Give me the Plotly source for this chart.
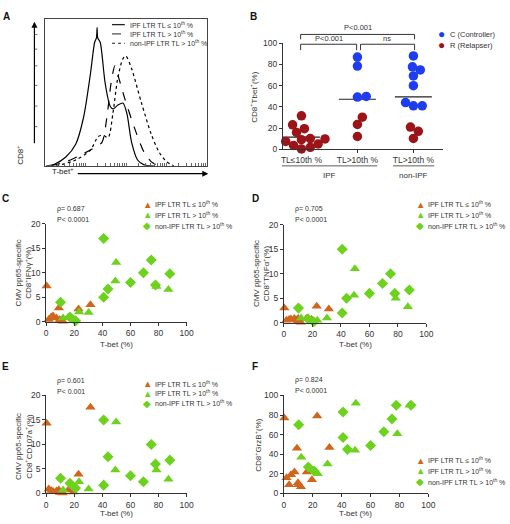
import numpy as np
import plotly.graph_objects as go

W, H = 510, 524
FONT = "Liberation Sans, Arial, sans-serif"
TXT = "#222222"
ORANGE = "#d2651c"
GREEN = "#6cd21e"
BLUE = "#1e3cf0"
RED = "#9c1418"

def px(x):
    return x / W

def py(y):
    return 1 - y / H

# ---------------- Panel A: histogram overlays (x: % of axis, y: % of max) -------------
a_solid_x = [0.6, 6, 12.7, 18.8, 23.6, 27.9, 30.5, 31.6, 32.0, 32.4, 33.9, 37, 40, 41.8, 44.8, 47.9, 50.3, 53.3, 57, 61, 67]
a_solid_y = [0, 1.3, 6, 14.7, 32.7, 62.7, 84, 87, 94, 87, 84, 56, 40.7, 38.7, 41.3, 42.7, 36, 16, 4, 0.7, 0]
a_dash_x = [3.6, 12.7, 21.8, 30.9, 35, 38, 40.6, 43, 45.5, 49, 55, 61, 65.5, 70]
a_dash_y = [0, 2.7, 7.3, 12.7, 16, 32.7, 56, 68, 59.3, 46, 26, 9.3, 2.7, 0]
a_dot_x = [6.7, 18.8, 27.9, 32.7, 35.8, 38.8, 41.8, 44.8, 47.9, 49.7, 53.3, 59.4, 65.5, 70.3, 75, 79.4]
a_dot_y = [0, 4, 10.7, 20, 20.7, 19.3, 36, 60, 72.7, 74.7, 66, 42.7, 21.3, 9.3, 2.7, 0]
a_legend = ["IPF LTR TL \u2264 10<sup>th</sup> %", "IPF LTR TL > 10<sup>th</sup> %",
            "non-IPF LTR TL > 10<sup>th</sup> %"]

# ---------------- Shared T-bet (%) values per patient group ----------------
tbet_low = [0.3, 1.8, 3.6, 4.9, 7.3, 9.0, 9.7, 10.0, 11.8, 15.8, 19.4, 23.0, 31.5]
tbet_mid = [12.0, 23.4, 30.2, 49.2, 49.8, 78.5, 87.0]
tbet_hi = [10.2, 16.9, 20.9, 40.9, 40.9, 44.0, 60.0, 69.2, 74.8, 77.8, 88.0]
status_low = ["R"] * 13
status_mid = ["R", "R", "R", "C", "C", "C", "C"]
status_hi = ["R", "R", "R", "C", "C", "C", "C", "C", "C", "C", "C"]
b_categories = ["TL\u226410th %", "TL>10th %", "TL>10th %"]

# ---------------- Panels C-F y values (same patient order) ----------------
ifng_low = [7.3, 0.5, 1.0, 1.2, 0.8, 2.8, 0.4, 0.2, 0.1, 0.9, 0.6, 2.6, 3.5]
ifng_mid = [0.8, 2.0, 1.9, 8.3, 12.1, 7.2, 6.6]
ifng_hi = [4.0, 1.0, 0.2, 17.0, 5.0, 6.7, 8.0, 10.0, 12.6, 7.5, 9.8]

tnfa_low = [3.0, 0.5, 0.7, 0.8, 0.9, 0.6, 0.3, 0.9, 0.1, 0.9, 0.7, 3.4, 2.8]
tnfa_mid = [1.0, 0.5, 1.0, 5.6, 11.0, 5.0, 3.3]
tnfa_hi = [3.0, 0.8, 0.2, 15.0, 2.0, 5.0, 6.0, 8.0, 10.0, 6.0, 6.7]

cd107_low = [14.3, 0.9, 0.6, 0.4, 0.5, 0.7, 0.3, 0.2, 0.1, 0.7, 0.3, 3.9, 17.6]
cd107_mid = [0.7, 2.4, 0.9, 4.8, 14.6, 4.8, 2.9]
cd107_hi = [3.1, 2.1, 1.1, 15.0, 1.7, 7.5, 3.6, 2.4, 10.0, 6.0, 6.8]

grzb_low = [77, 16, 9, 19, 22, 46, 11, 9, 7, 22, 14, 79, 47]
grzb_mid = [37, 20, 30, 44, 92, 61, 90]
grzb_hi = [70, 27, 23, 83, 57, 45, 49, 63, 76, 90, 90]

stats = {"C": ("\u03c1= 0.687", "P< 0.0001"), "D": ("\u03c1= 0.705", "P< 0.0001"),
         "E": ("\u03c1= 0.601", "P< 0.001"), "F": ("\u03c1= 0.824", "P< 0.0001")}

fig = go.Figure()
annotations = []
shapes = []

def ann(x, y, text, size=8, xanchor="center", yanchor="middle", angle=0, color=TXT, bold=False):
    if bold:
        text = "<b>" + text + "</b>"
    annotations.append(dict(x=px(x), y=py(y), xref="paper", yref="paper", text=text,
                            showarrow=False, xanchor=xanchor, yanchor=yanchor, textangle=angle,
                            font=dict(family=FONT, size=size, color=color)))

def line(x0, y0, x1, y1, color="#333333", width=1, dash="solid"):
    shapes.append(dict(type="line", xref="paper", yref="paper", x0=px(x0), y0=py(y0),
                       x1=px(x1), y1=py(y1), line=dict(color=color, width=width, dash=dash)))

# ---------------- Panel A ----------------
for xs, ys, dash in [(a_solid_x, a_solid_y, "solid"), (a_dash_x, a_dash_y, "dash"), (a_dot_x, a_dot_y, "dot")]:
    fig.add_trace(go.Scatter(x=xs, y=ys, mode="lines", xaxis="x", yaxis="y",
                             line=dict(color="black", width=1.2, dash=dash, shape="spline", smoothing=0.8),
                             showlegend=False, hoverinfo="skip"))

a_ticks = []
for d in range(4):
    for m in range(1, 10):
        a_ticks.append(d * 25 + 25 * np.log10(m))

for i, (txt, dash) in enumerate(zip(a_legend, ["solid", "dash", "dot"])):
    yy = 20 + 9.5 * i
    line(112, yy, 125, yy, color="#222", width=1.3 if dash == "solid" else 1, dash=dash)
    ann(128, yy, txt, size=7, xanchor="left", color="#333")

annotations.append(dict(x=px(33), y=py(17), xref="paper", yref="paper", ax=0, ay=123, text="",
                        showarrow=True, arrowhead=2, arrowsize=1, arrowwidth=1.2, arrowcolor="black"))
annotations.append(dict(x=px(210), y=py(172), xref="paper", yref="paper", ax=-132, ay=0, text="",
                        showarrow=True, arrowhead=2, arrowsize=1, arrowwidth=1.2, arrowcolor="black"))
for ty in [30, 45, 62, 82, 103, 124]:
    line(33, ty, 36, ty, color="#444", width=0.8)
ann(18, 153, "CD8<sup>+</sup>", size=8, angle=-90)
ann(62, 169, "T-bet<sup>+</sup>", size=8)

# ---------------- Panel B ----------------
def beeswarm(vals, ppu_y, ppu_x, d=8.6):
    placed = []
    offs = [0.0] * len(vals)
    for i in np.argsort(vals, kind="stable"):
        yv = vals[i] * ppu_y
        best = None
        for k in range(0, 80):
            for s in ([0] if k == 0 else [k, -k]):
                if all((s - xp) ** 2 + (yv - yp) ** 2 >= d * d for yp, xp in placed):
                    best = s
                    break
            if best is not None:
                break
        placed.append((yv, best))
        offs[i] = best / ppu_x
    return offs

groups = [(tbet_low, status_low), (tbet_mid, status_mid), (tbet_hi, status_hi)]
bx_C, by_C, bx_R, by_R = [], [], [], []
for gi, (vals, st) in enumerate(groups):
    offs = beeswarm(vals, 1.08, 57.0)
    for v, s, o in zip(vals, st, offs):
        if s == "C":
            bx_C.append(gi + 1 + o); by_C.append(v)
        else:
            bx_R.append(gi + 1 + o); by_R.append(v)
    m = float(np.mean(vals))
    fig.add_trace(go.Scatter(x=[gi + 1 - 0.33, gi + 1 + 0.33], y=[m, m], mode="lines",
                             xaxis="x2", yaxis="y2", line=dict(color="#222", width=1.2),
                             showlegend=False, hoverinfo="skip"))
fig.add_trace(go.Scatter(x=bx_R, y=by_R, mode="markers", xaxis="x2", yaxis="y2", cliponaxis=False,
                         marker=dict(color=RED, size=9.5, line=dict(width=0)), showlegend=False))
fig.add_trace(go.Scatter(x=bx_C, y=by_C, mode="markers", xaxis="x2", yaxis="y2", cliponaxis=False,
                         marker=dict(color=BLUE, size=9.5, line=dict(width=0)), showlegend=False))

ann(447, 30, "\u25cf", size=12, color=BLUE)
ann(447, 41, "\u25cf", size=12, color=RED)
ann(454, 30, "C (Controller)", size=7.5, xanchor="left", color="#333")
ann(454, 41, "R (Relapser)", size=7.5, xanchor="left", color="#333")
line(304, 30, 420, 30); line(304, 30, 304, 35); line(420, 30, 420, 35)
line(304, 40, 361, 40); line(304, 40, 304, 46); line(361, 40, 361, 46)
line(365, 40, 420, 40); line(365, 40, 365, 46); line(420, 40, 420, 46)
ann(362, 23, "P<0.001", size=7.5, color="#333")
ann(333, 34, "P<0.001", size=7.5, color="#333")
ann(392, 34, "ns", size=7.5, color="#333")
line(285, 164, 382, 164, width=0.8)
line(398, 164, 440, 164, width=0.8)
ann(333, 174, "IPF", size=8, color="#333")
ann(419, 174, "non-IPF", size=8, color="#333")
ann(256, 94, "CD8<sup>+</sup>Tbet<sup>+</sup>(%)", size=8, angle=-90, color="#333")

# ---------------- Scatter panels ----------------
legend_txt = ["IPF LTR TL \u2264 10<sup>th</sup> %", "IPF LTR TL > 10<sup>th</sup> %",
              "non-IPF LTR TL > 10<sup>th</sup> %"]

def scatter_panel(ax, low, mid, hi):
    xa, ya = "x" + ax, "y" + ax
    fig.add_trace(go.Scatter(x=tbet_low, y=low, mode="markers", xaxis=xa, yaxis=ya, cliponaxis=False,
                             marker=dict(symbol="triangle-up", color=ORANGE, size=9, line=dict(width=0)),
                             showlegend=False))
    fig.add_trace(go.Scatter(x=tbet_mid, y=mid, mode="markers", xaxis=xa, yaxis=ya, cliponaxis=False,
                             marker=dict(symbol="triangle-up", color=GREEN, size=9, line=dict(width=0)),
                             showlegend=False))
    fig.add_trace(go.Scatter(x=tbet_hi, y=hi, mode="markers", xaxis=xa, yaxis=ya, cliponaxis=False,
                             marker=dict(symbol="diamond", color=GREEN, size=8.5, line=dict(width=0)),
                             showlegend=False))

scatter_panel("3", ifng_low, ifng_mid, ifng_hi)
scatter_panel("4", tnfa_low, tnfa_mid, tnfa_hi)
scatter_panel("5", cd107_low, cd107_mid, cd107_hi)
scatter_panel("6", grzb_low, grzb_mid, grzb_hi)

def legend_block(xm, y0, dy=11):
    for i, (txt, sym, col) in enumerate(zip(legend_txt, ["\u25b2", "\u25b2", "\u25c6"], [ORANGE, GREEN, GREEN])):
        yy = y0 + dy * i
        ann(xm, yy, sym, size=9.5, color=col)
        ann(xm + 5.5, yy, txt, size=7, xanchor="left", color="#333")

legend_block(148, 203)
legend_block(426, 203)
legend_block(148, 386, dy=10)
legend_block(426, 464, dy=11)

for key, (x0, y0) in {"C": (54, 208), "D": (296, 208), "E": (54, 383), "F": (296, 382)}.items():
    ann(x0, y0, stats[key][0], size=7, xanchor="left", color="#333")
    ann(x0, y0 + 11, stats[key][1], size=7, xanchor="left", color="#333")

ann(22, 273, "CMV pp65-specific<br>CD8<sup>+</sup>IFN\u03b3<sup>+</sup>(%)", size=8, angle=-90, color="#333")
ann(264, 274, "CMV pp65-specific<br>CD8<sup>+</sup>TNF\u03b1<sup>+</sup>(%)", size=8, angle=-90, color="#333")
ann(22, 450, "CMV pp65-specific<br>CD8<sup>+</sup>CD107a<sup>+</sup>(%)", size=8, angle=-90, color="#333")
ann(261, 448, "CD8<sup>+</sup>GrzB<sup>+</sup>(%)", size=8, angle=-90, color="#333")
for xc, yc in [(117, 346), (360, 346), (117, 518), (360, 518)]:
    ann(xc, yc, "T-bet (%)", size=8, color="#333")

for letter, (x0, y0) in {"A": (5, 12), "B": (256, 12), "C": (4, 197), "D": (258, 197),
                         "E": (4, 369), "F": (258, 369)}.items():
    ann(x0, y0, letter, size=10, bold=True, color="#111")

# ---------------- Axes ----------------
tickfont = dict(family=FONT, size=8.5, color="#333")
common = dict(showline=True, linecolor="#333", linewidth=1, ticks="outside", ticklen=3,
              tickcolor="#333", tickwidth=1, showgrid=False, zeroline=False, tickfont=tickfont,
              fixedrange=True)

layout = dict(
    width=W, height=H, margin=dict(l=0, r=0, t=0, b=0),
    paper_bgcolor="white", plot_bgcolor="white", showlegend=False,
    font=dict(family=FONT, size=8, color=TXT),
    xaxis=dict(domain=[px(44), px(209)], range=[0, 100], showline=True, mirror=True, linecolor="#444",
               linewidth=1, ticks="inside", tickvals=a_ticks, ticklen=2.5, tickcolor="#666",
               showticklabels=False, showgrid=False, zeroline=False, anchor="y"),
    yaxis=dict(domain=[py(164), py(14)], range=[0, 100], showline=True, mirror=True, linecolor="#444",
               linewidth=1, ticks="", showticklabels=False, showgrid=False, zeroline=False, anchor="x"),
    xaxis2=dict(domain=[px(286), px(449)], range=[0.67, 3.53], tickvals=[1, 2, 3],
                ticktext=b_categories, anchor="y2", **common),
    yaxis2=dict(domain=[py(147), py(39)], range=[0, 100], dtick=20, anchor="x2", **common),
    xaxis3=dict(domain=[px(45), px(188)], range=[0, 100], dtick=20, anchor="y3", **common),
    yaxis3=dict(domain=[py(323), py(223)], range=[0, 20], dtick=5, anchor="x3", **common),
    xaxis4=dict(domain=[px(287), px(432)], range=[0, 100], dtick=20, anchor="y4", **common),
    yaxis4=dict(domain=[py(324), py(224)], range=[0, 20], dtick=5, anchor="x4", **common),
    xaxis5=dict(domain=[px(45), px(188)], range=[0, 100], dtick=20, anchor="y5", **common),
    yaxis5=dict(domain=[py(498), py(398)], range=[0, 20], dtick=5, anchor="x5", **common),
    xaxis6=dict(domain=[px(287), px(434)], range=[0, 100], dtick=20, anchor="y6", **common),
    yaxis6=dict(domain=[py(498), py(398)], range=[0, 100], dtick=20, anchor="x6", **common),
    annotations=annotations, shapes=shapes,
)
fig.update_layout(**layout)
fig.write_html("out.html", config={"displayModeBar": False},
               post_script="document.body.style.margin='0';document.body.style.overflow='hidden';")
